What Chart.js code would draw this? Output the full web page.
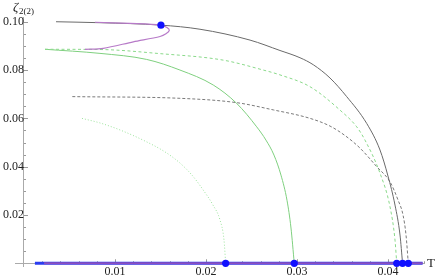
<!DOCTYPE html>
<html>
<head>
<meta charset="utf-8">
<script src="https://cdn.jsdelivr.net/npm/chart.js@4"></script>
<style>
  html, body { margin: 0; padding: 0; background: #fff; }
  #wrap { width: 436px; height: 279px; }
</style>
</head>
<body>
<div id="wrap"><canvas id="c" width="436" height="279"></canvas></div>
<script>
// values (T on x, zeta_2(2) on y)
const blackSolidT = [0.00352, 0.00835, 0.01505, 0.01934, 0.02484, 0.02813, 0.03033, 0.03179, 0.03363, 0.03546, 0.03766, 0.03912, 0.0400, 0.04077, 0.04132, 0.0416];
const blackSolidZ = [0.1000, 0.0996, 0.0986, 0.0969, 0.0924, 0.0881, 0.0851, 0.0822, 0.0767, 0.0690, 0.0579, 0.0469, 0.0361, 0.0241, 0.0117, 0];

const greenDashedT = [0.00231, 0.00835, 0.01495, 0.0219, 0.0263, 0.02813, 0.03143, 0.03473, 0.03656, 0.03747, 0.03912, 0.04022, 0.04077, 0.04096];
const greenDashedZ = [0.0886, 0.0885, 0.0868, 0.0841, 0.0800, 0.0780, 0.0731, 0.0634, 0.0565, 0.0510, 0.0373, 0.0234, 0.0096, 0];

const blackDashedT = [0.00531, 0.01714, 0.02337, 0.0274, 0.03143, 0.03363, 0.03527, 0.03692, 0.03876, 0.04022, 0.0411, 0.04165, 0.04198, 0.04223];
const blackDashedZ = [0.0690, 0.0683, 0.0665, 0.0635, 0.0600, 0.0568, 0.0529, 0.0477, 0.0400, 0.0337, 0.0262, 0.0200, 0.0117, 0];

const greenSolidT = [0.00231, 0.00835, 0.01348, 0.01714, 0.0208, 0.02337, 0.02557, 0.02659, 0.02747, 0.02824, 0.0289, 0.02934, 0.0297];
const greenSolidZ = [0.0886, 0.0869, 0.0844, 0.0800, 0.0738, 0.0662, 0.0565, 0.0510, 0.0448, 0.0365, 0.0261, 0.0146, 0];

const greenDottedT = [0.00637, 0.00835, 0.01055, 0.0133, 0.0155, 0.01714, 0.01846, 0.0197, 0.02077, 0.02154, 0.02198, 0.02216];
const greenDottedZ = [0.0600, 0.0581, 0.0552, 0.0506, 0.0461, 0.0415, 0.0365, 0.0303, 0.0241, 0.0179, 0.0096, 0];

// purple branch folds back on itself
const purpleT = [0.0078, 0.01165, 0.01505, 0.01571, 0.01597, 0.0156, 0.01495, 0.01201, 0.00871, 0.0067];
const purpleZ = [0.0998, 0.0993, 0.0986, 0.0976, 0.0964, 0.0950, 0.0939, 0.0917, 0.0890, 0.0886];

// zero solution along the axis
const blueLineT = [0.0012, 0.0438];
const blueLineZ = [0, 0];
const purpleLineT = [0.0022, 0.0438];
const purpleLineZ = [0, 0];

// marked points
const dotsT = [0.01505, 0.02216, 0.0297, 0.04096, 0.0416, 0.04223];
const dotsZ = [0.0986, 0, 0, 0, 0, 0];

const xTicks = [0.01, 0.02, 0.03, 0.04];
const xTickLabels = ['0.01', '0.02', '0.03', '0.04'];
const yTicks = [0.02, 0.04, 0.06, 0.08, 0.10];
const yTickLabels = ['0.02', '0.04', '0.06', '0.08', '0.10'];

function pts(ts, zs) {
  return ts.map((t, i) => ({ x: t, y: zs[i] }));
}

function curve(ts, zs, color, dash, width, smooth) {
  const ds = {
    data: pts(ts, zs),
    showLine: true,
    borderColor: color,
    borderWidth: width || 1,
    borderDash: dash || [],
    pointRadius: 0,
    fill: false
  };
  if (smooth === 'tension') {
    ds.tension = 0.3;
  } else {
    ds.cubicInterpolationMode = 'monotone';
  }
  return ds;
}

// small ticks drawn inward like the original, plus axis names
const axisExtras = {
  id: 'axisExtras',
  beforeDatasetsDraw(chart) {
    const ctx = chart.ctx;
    const xs = chart.scales.x, ys = chart.scales.y;
    const x0 = xs.getPixelForValue(0), y0 = ys.getPixelForValue(0);
    ctx.save();
    ctx.strokeStyle = '#9a9a9a';
    ctx.lineWidth = 1;
    ctx.beginPath();
    for (let v = 0.002; v < 0.0445; v += 0.002) {
      const p = Math.round(xs.getPixelForValue(v)) + 0.5;
      const major = xTicks.some(t => Math.abs(t - v) < 1e-6);
      ctx.moveTo(p, y0);
      ctx.lineTo(p, y0 - (major ? 4 : 2));
    }
    for (let v = 0.005; v < 0.1015; v += 0.005) {
      const p = Math.round(ys.getPixelForValue(v)) + 0.5;
      const major = yTicks.some(t => Math.abs(t - v) < 1e-6);
      ctx.moveTo(x0, p);
      ctx.lineTo(x0 + (major ? 4 : 2), p);
    }
    ctx.stroke();
    ctx.restore();
  },
  afterDraw(chart) {
    const ctx = chart.ctx;
    ctx.save();
    ctx.fillStyle = '#222';
    ctx.font = 'italic 13px "Liberation Serif"';
    ctx.fillText('ζ', 13, 11);
    ctx.font = '9px "Liberation Serif"';
    ctx.fillText('2(2)', 19, 14);
    ctx.font = '13px "Liberation Serif"';
    ctx.fillText('T', 427, 267);
    ctx.restore();
  }
};

new Chart(document.getElementById('c'), {
  type: 'scatter',
  data: {
    datasets: [
      {
        data: pts(dotsT, dotsZ),
        pointRadius: 3.6,
        pointBackgroundColor: '#1010ff',
        pointBorderWidth: 0,
        showLine: false
      },
      curve(purpleT, purpleZ, '#b77ac8', [], 1.2, 'tension'),
      curve(blackSolidT, blackSolidZ, '#6a6a6a'),
      curve(greenDashedT, greenDashedZ, '#8ad98a', [3, 2.5]),
      curve(blackDashedT, blackDashedZ, '#7a7a7a', [3, 2]),
      curve(greenSolidT, greenSolidZ, '#7fd07f'),
      curve(greenDottedT, greenDottedZ, '#9be39b', [1, 2]),
      curve(purpleLineT, purpleLineZ, '#8a4fc0', [], 2),
      curve(blueLineT, blueLineZ, '#2a3cf0', [], 3)
    ]
  },
  options: {
    responsive: false,
    animation: false,
    devicePixelRatio: 1,
    layout: { padding: { left: 15.8, right: 11.6, top: 17.4, bottom: 12.1 } },
    plugins: { legend: { display: false }, tooltip: { enabled: false } },
    scales: {
      x: {
        type: 'linear',
        min: -0.0009,
        max: 0.044,
        position: { y: 0 },
        afterBuildTicks: s => { s.ticks = xTicks.map(v => ({ value: v })); },
        grid: { display: false },
        border: { display: true, color: '#aaaaaa', width: 1 },
        ticks: {
          padding: -7,
          color: '#222',
          font: { family: 'Liberation Serif', size: 12 },
          maxRotation: 0,
          callback: (v, i) => xTickLabels[i]
        }
      },
      y: {
        type: 'linear',
        min: -0.0015,
        max: 0.1018,
        position: { x: 0 },
        afterBuildTicks: s => { s.ticks = yTicks.map(v => ({ value: v })); },
        grid: { display: false },
        border: { display: true, color: '#aaaaaa', width: 1 },
        ticks: {
          padding: 2,
          color: '#222',
          font: { family: 'Liberation Serif', size: 12 },
          callback: (v, i) => yTickLabels[i]
        }
      }
    }
  },
  plugins: [axisExtras]
});
</script>
</body>
</html>
